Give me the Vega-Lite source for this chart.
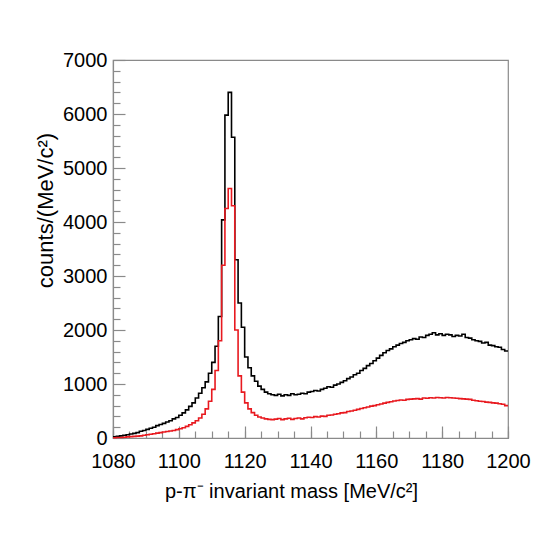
{
  "$schema": "https://vega.github.io/schema/vega-lite/v6.json",
  "width": 395,
  "height": 378,
  "autosize": "none",
  "padding": {"left": 113, "top": 60, "right": 36, "bottom": 97},
  "background": "white",
  "datasets": {
    "h": [
      {"m":1080,"s":"all","c":20},{"m":1081,"s":"all","c":30},{"m":1082,"s":"all","c":40},{"m":1083,"s":"all","c":50},{"m":1084,"s":"all","c":60},
      {"m":1085,"s":"all","c":75},{"m":1086,"s":"all","c":85},{"m":1087,"s":"all","c":100},{"m":1088,"s":"all","c":125},{"m":1089,"s":"all","c":140},
      {"m":1090,"s":"all","c":160},{"m":1091,"s":"all","c":180},{"m":1092,"s":"all","c":200},{"m":1093,"s":"all","c":230},{"m":1094,"s":"all","c":250},
      {"m":1095,"s":"all","c":270},{"m":1096,"s":"all","c":295},{"m":1097,"s":"all","c":320},{"m":1098,"s":"all","c":355},{"m":1099,"s":"all","c":380},
      {"m":1100,"s":"all","c":420},{"m":1101,"s":"all","c":465},{"m":1102,"s":"all","c":520},{"m":1103,"s":"all","c":585},{"m":1104,"s":"all","c":650},
      {"m":1105,"s":"all","c":740},{"m":1106,"s":"all","c":830},{"m":1107,"s":"all","c":930},{"m":1108,"s":"all","c":1040},{"m":1109,"s":"all","c":1200},
      {"m":1110,"s":"all","c":1400},{"m":1111,"s":"all","c":1700},{"m":1112,"s":"all","c":2250},{"m":1113,"s":"all","c":4040},{"m":1114,"s":"all","c":5980},
      {"m":1115,"s":"all","c":6400},{"m":1116,"s":"all","c":5570},{"m":1117,"s":"all","c":3300},{"m":1118,"s":"all","c":2500},{"m":1119,"s":"all","c":2050},
      {"m":1120,"s":"all","c":1500},{"m":1121,"s":"all","c":1300},{"m":1122,"s":"all","c":1150},{"m":1123,"s":"all","c":1050},{"m":1124,"s":"all","c":960},
      {"m":1125,"s":"all","c":900},{"m":1126,"s":"all","c":850},{"m":1127,"s":"all","c":820},{"m":1128,"s":"all","c":800},{"m":1129,"s":"all","c":790},
      {"m":1130,"s":"all","c":810},{"m":1131,"s":"all","c":780},{"m":1132,"s":"all","c":800},{"m":1133,"s":"all","c":790},{"m":1134,"s":"all","c":820},
      {"m":1135,"s":"all","c":800},{"m":1136,"s":"all","c":810},{"m":1137,"s":"all","c":830},{"m":1138,"s":"all","c":820},{"m":1139,"s":"all","c":850},
      {"m":1140,"s":"all","c":860},{"m":1141,"s":"all","c":880},{"m":1142,"s":"all","c":870},{"m":1143,"s":"all","c":900},{"m":1144,"s":"all","c":920},
      {"m":1145,"s":"all","c":950},{"m":1146,"s":"all","c":940},{"m":1147,"s":"all","c":980},{"m":1148,"s":"all","c":1000},{"m":1149,"s":"all","c":1030},
      {"m":1150,"s":"all","c":1060},{"m":1151,"s":"all","c":1100},{"m":1152,"s":"all","c":1130},{"m":1153,"s":"all","c":1170},{"m":1154,"s":"all","c":1200},
      {"m":1155,"s":"all","c":1250},{"m":1156,"s":"all","c":1290},{"m":1157,"s":"all","c":1340},{"m":1158,"s":"all","c":1380},{"m":1159,"s":"all","c":1430},
      {"m":1160,"s":"all","c":1480},{"m":1161,"s":"all","c":1530},{"m":1162,"s":"all","c":1580},{"m":1163,"s":"all","c":1620},{"m":1164,"s":"all","c":1650},
      {"m":1165,"s":"all","c":1690},{"m":1166,"s":"all","c":1720},{"m":1167,"s":"all","c":1750},{"m":1168,"s":"all","c":1770},{"m":1169,"s":"all","c":1800},
      {"m":1170,"s":"all","c":1820},{"m":1171,"s":"all","c":1840},{"m":1172,"s":"all","c":1830},{"m":1173,"s":"all","c":1870},{"m":1174,"s":"all","c":1860},
      {"m":1175,"s":"all","c":1900},{"m":1176,"s":"all","c":1920},{"m":1177,"s":"all","c":1950},{"m":1178,"s":"all","c":1910},{"m":1179,"s":"all","c":1930},
      {"m":1180,"s":"all","c":1900},{"m":1181,"s":"all","c":1920},{"m":1182,"s":"all","c":1910},{"m":1183,"s":"all","c":1880},{"m":1184,"s":"all","c":1900},
      {"m":1185,"s":"all","c":1890},{"m":1186,"s":"all","c":1920},{"m":1187,"s":"all","c":1860},{"m":1188,"s":"all","c":1850},{"m":1189,"s":"all","c":1820},
      {"m":1190,"s":"all","c":1800},{"m":1191,"s":"all","c":1790},{"m":1192,"s":"all","c":1760},{"m":1193,"s":"all","c":1770},{"m":1194,"s":"all","c":1720},
      {"m":1195,"s":"all","c":1710},{"m":1196,"s":"all","c":1690},{"m":1197,"s":"all","c":1680},{"m":1198,"s":"all","c":1640},{"m":1199,"s":"all","c":1610},
      {"m":1200,"s":"all","c":1610},
      {"m":1080,"s":"sel","c":5},{"m":1081,"s":"sel","c":8},{"m":1082,"s":"sel","c":10},{"m":1083,"s":"sel","c":15},{"m":1084,"s":"sel","c":20},
      {"m":1085,"s":"sel","c":25},{"m":1086,"s":"sel","c":30},{"m":1087,"s":"sel","c":35},{"m":1088,"s":"sel","c":40},{"m":1089,"s":"sel","c":50},
      {"m":1090,"s":"sel","c":60},{"m":1091,"s":"sel","c":70},{"m":1092,"s":"sel","c":80},{"m":1093,"s":"sel","c":90},{"m":1094,"s":"sel","c":100},
      {"m":1095,"s":"sel","c":110},{"m":1096,"s":"sel","c":120},{"m":1097,"s":"sel","c":130},{"m":1098,"s":"sel","c":140},{"m":1099,"s":"sel","c":155},
      {"m":1100,"s":"sel","c":170},{"m":1101,"s":"sel","c":190},{"m":1102,"s":"sel","c":215},{"m":1103,"s":"sel","c":245},{"m":1104,"s":"sel","c":280},
      {"m":1105,"s":"sel","c":320},{"m":1106,"s":"sel","c":370},{"m":1107,"s":"sel","c":440},{"m":1108,"s":"sel","c":540},{"m":1109,"s":"sel","c":680},
      {"m":1110,"s":"sel","c":900},{"m":1111,"s":"sel","c":1250},{"m":1112,"s":"sel","c":1800},{"m":1113,"s":"sel","c":3200},{"m":1114,"s":"sel","c":4250},
      {"m":1115,"s":"sel","c":4620},{"m":1116,"s":"sel","c":4300},{"m":1117,"s":"sel","c":2000},{"m":1118,"s":"sel","c":1150},{"m":1119,"s":"sel","c":850},
      {"m":1120,"s":"sel","c":650},{"m":1121,"s":"sel","c":540},{"m":1122,"s":"sel","c":470},{"m":1123,"s":"sel","c":420},{"m":1124,"s":"sel","c":390},
      {"m":1125,"s":"sel","c":370},{"m":1126,"s":"sel","c":355},{"m":1127,"s":"sel","c":345},{"m":1128,"s":"sel","c":340},{"m":1129,"s":"sel","c":350},
      {"m":1130,"s":"sel","c":360},{"m":1131,"s":"sel","c":340},{"m":1132,"s":"sel","c":355},{"m":1133,"s":"sel","c":365},{"m":1134,"s":"sel","c":345},
      {"m":1135,"s":"sel","c":360},{"m":1136,"s":"sel","c":370},{"m":1137,"s":"sel","c":355},{"m":1138,"s":"sel","c":375},{"m":1139,"s":"sel","c":385},
      {"m":1140,"s":"sel","c":380},{"m":1141,"s":"sel","c":395},{"m":1142,"s":"sel","c":390},{"m":1143,"s":"sel","c":405},{"m":1144,"s":"sel","c":400},
      {"m":1145,"s":"sel","c":420},{"m":1146,"s":"sel","c":425},{"m":1147,"s":"sel","c":440},{"m":1148,"s":"sel","c":450},{"m":1149,"s":"sel","c":465},
      {"m":1150,"s":"sel","c":470},{"m":1151,"s":"sel","c":490},{"m":1152,"s":"sel","c":500},{"m":1153,"s":"sel","c":515},{"m":1154,"s":"sel","c":530},
      {"m":1155,"s":"sel","c":545},{"m":1156,"s":"sel","c":560},{"m":1157,"s":"sel","c":575},{"m":1158,"s":"sel","c":590},{"m":1159,"s":"sel","c":600},
      {"m":1160,"s":"sel","c":615},{"m":1161,"s":"sel","c":630},{"m":1162,"s":"sel","c":645},{"m":1163,"s":"sel","c":660},{"m":1164,"s":"sel","c":670},
      {"m":1165,"s":"sel","c":685},{"m":1166,"s":"sel","c":695},{"m":1167,"s":"sel","c":705},{"m":1168,"s":"sel","c":700},{"m":1169,"s":"sel","c":715},
      {"m":1170,"s":"sel","c":720},{"m":1171,"s":"sel","c":725},{"m":1172,"s":"sel","c":730},{"m":1173,"s":"sel","c":720},{"m":1174,"s":"sel","c":740},
      {"m":1175,"s":"sel","c":735},{"m":1176,"s":"sel","c":745},{"m":1177,"s":"sel","c":740},{"m":1178,"s":"sel","c":750},{"m":1179,"s":"sel","c":745},
      {"m":1180,"s":"sel","c":740},{"m":1181,"s":"sel","c":750},{"m":1182,"s":"sel","c":745},{"m":1183,"s":"sel","c":740},{"m":1184,"s":"sel","c":735},
      {"m":1185,"s":"sel","c":730},{"m":1186,"s":"sel","c":725},{"m":1187,"s":"sel","c":720},{"m":1188,"s":"sel","c":715},{"m":1189,"s":"sel","c":700},
      {"m":1190,"s":"sel","c":690},{"m":1191,"s":"sel","c":680},{"m":1192,"s":"sel","c":675},{"m":1193,"s":"sel","c":665},{"m":1194,"s":"sel","c":660},
      {"m":1195,"s":"sel","c":650},{"m":1196,"s":"sel","c":645},{"m":1197,"s":"sel","c":635},{"m":1198,"s":"sel","c":625},{"m":1199,"s":"sel","c":600},
      {"m":1200,"s":"sel","c":600}
    ]
  },
  "data": {"name": "h"},
  "layer": [
    {
      "mark": {"type": "line", "interpolate": "step-after", "strokeOpacity": 0},
      "encoding": {
        "x": {"field": "m", "type": "quantitative", "scale": {"domain": [1080, 1200], "nice": false, "zero": false},
              "axis": {"orient": "bottom", "values": [1080,1085,1090,1095,1100,1105,1110,1115,1120,1125,1130,1135,1140,1145,1150,1155,1160,1165,1170,1175,1180,1185,1190,1195,1200],
                       "tickSize": -7, "labels": false, "domain": false, "title": null}},
        "y": {"field": "c", "type": "quantitative", "scale": {"domain": [0, 7000], "nice": false},
              "axis": {"orient": "left", "values": [200,400,600,800,1200,1400,1600,1800,2200,2400,2600,2800,3200,3400,3600,3800,4200,4400,4600,4800,5200,5400,5600,5800,6200,6400,6600,6800],
                       "tickSize": -7, "labels": false, "domain": false, "title": null}},
        "detail": {"field": "s"}
      }
    },
    {
      "mark": {"type": "line", "interpolate": "step-after", "strokeWidth": 1.6},
      "encoding": {
        "x": {"field": "m", "type": "quantitative",
              "axis": {"orient": "bottom", "values": [1080,1100,1120,1140,1160,1180,1200], "format": "d", "tickSize": -12, "labelPadding": 25, "labelFontSize": 20,
                       "labelOverlap": false, "labelBound": false, "labelFlush": false,
                       "title": "p-π⁻ invariant mass [MeV/c²]", "titleX": 178, "titlePadding": 10, "titleFontSize": 20}},
        "y": {"field": "c", "type": "quantitative",
              "axis": {"orient": "left", "values": [0,1000,2000,3000,4000,5000,6000,7000], "format": "d", "tickSize": -12, "labelPadding": 18, "labelFontSize": 20,
                       "labelOverlap": false, "labelBound": false, "labelFlush": false,
                       "title": "counts/(MeV/c²)", "titleY": 150, "titlePadding": 5, "titleFontSize": 22}},
        "color": {"field": "s", "type": "nominal", "scale": {"domain": ["all", "sel"], "range": ["#000000", "#e8191f"]}, "legend": null}
      }
    }
  ],
  "resolve": {"axis": {"x": "independent", "y": "independent"}},
  "config": {
    "view": {"stroke": "#8a8a8a", "strokeWidth": 1.2},
    "axis": {
      "grid": false,
      "domainColor": "#8a8a8a",
      "domainWidth": 1.2,
      "tickColor": "#8a8a8a",
      "tickWidth": 1.2,
      "labelFont": "Liberation Sans",
      "labelColor": "#000000",
      "titleFont": "Liberation Sans",
      "titleFontWeight": "normal",
      "titleColor": "#000000"
    }
  }
}
